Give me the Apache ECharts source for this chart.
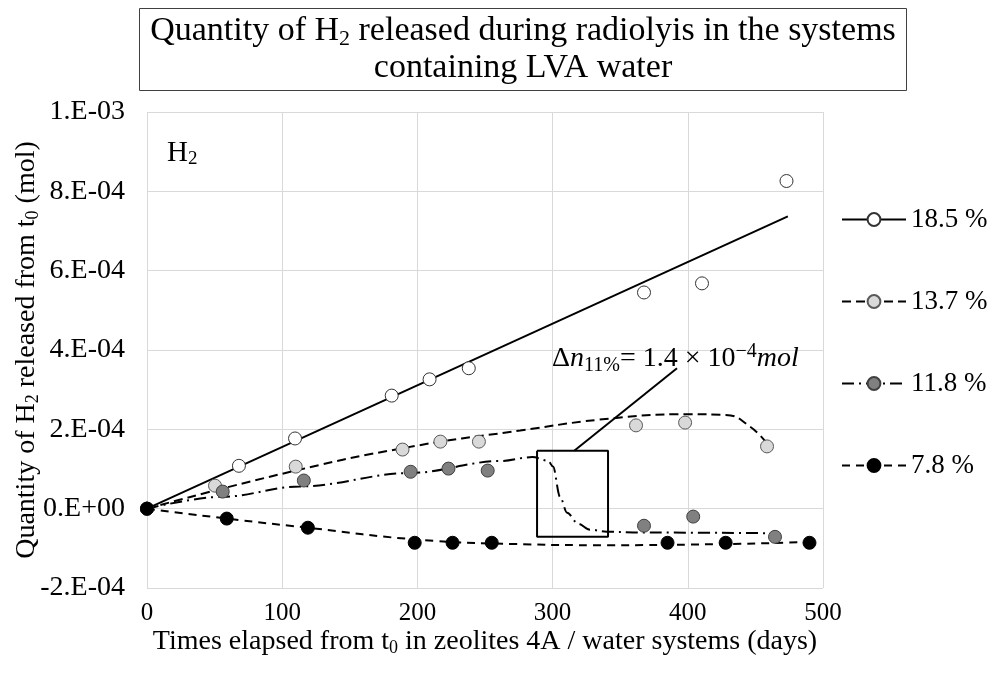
<!DOCTYPE html>
<html>
<head>
<meta charset="utf-8">
<script src="https://cdn.jsdelivr.net/npm/echarts@6/dist/echarts.min.js"></script>
<style>
  html, body { margin: 0; padding: 0; background: #fff; }
  #chart { width: 1000px; height: 675px; }
</style>
</head>
<body>
<div id="chart"></div>
<script>
// measured points (days, mol)
const names = ['18.5 %', '13.7 %', '11.8 %', '7.8 %']
const pts185 = [[0, 0], [68, 1.08e-4], [109.5, 1.77e-4], [181, 2.85e-4], [209, 3.26e-4], [238, 3.54e-4], [367.6, 5.45e-4], [410.5, 5.68e-4], [473, 8.26e-4]]
const pts137 = [[0, 0], [50.3, 0.58e-4], [110, 1.06e-4], [189, 1.49e-4], [217, 1.69e-4], [245.5, 1.69e-4], [361.7, 2.10e-4], [398, 2.17e-4], [458.6, 1.57e-4]]
const pts118 = [[0, 0], [56, 0.43e-4], [116, 0.71e-4], [195, 0.93e-4], [223, 1.01e-4], [252, 0.96e-4], [367.6, -0.43e-4], [404, -0.20e-4], [464.5, -0.71e-4]]
const pts78 = [[0, 0], [59, -0.25e-4], [119, -0.48e-4], [198, -0.86e-4], [226, -0.86e-4], [255, -0.86e-4], [385, -0.86e-4], [428, -0.86e-4], [490, -0.86e-4]]

// trend curves
const trend185 = [[0, 0], [474, 7.37e-4]]
const trend137 = [[0, 0], [100, 0.88e-4], [190, 1.53e-4], [276, 1.97e-4], [345, 2.28e-4], [400, 2.38e-4], [428, 2.36e-4], [446, 2.07e-4], [459, 1.62e-4]]
const trend118 = [[0, 0], [56, 0.3e-4], [113, 0.56e-4], [195, 0.9e-4], [261, 1.2e-4], [285, 1.3e-4], [296.6, 1.21e-4], [300.3, 1.06e-4], [305.5, 0.3e-4], [310.7, -0.1e-4], [318.8, -0.38e-4], [327.7, -0.53e-4], [340, -0.58e-4], [360, -0.6e-4], [465, -0.62e-4]]
const trend78 = [[0, 0], [59, -0.25e-4], [119, -0.48e-4], [200, -0.78e-4], [270, -0.89e-4], [340, -0.92e-4], [430, -0.89e-4], [490, -0.84e-4]]

// annotation: zoom box and callout (data coords)
const zoomBox = [[288.5, 1.46e-4], [341, 1.46e-4], [341, -0.71e-4], [288.5, -0.71e-4], [288.5, 1.46e-4]]
const callout = [[316, 1.46e-4], [392, 3.54e-4]]

const serif = '"Liberation Serif", "Times New Roman", serif'
const fills = ['#ffffff', '#d9d9d9', '#808080', '#000000']
const borders = ['#333333', '#595959', '#404040', '#000000']
const dashes = ['solid', [9, 5], [12, 5, 2, 5], [8, 6]]
const trends = [trend185, trend137, trend118, trend78]
const points = [pts185, pts137, pts118, pts78]

function expLabel(v) {
  const s = Number(v).toExponential(0)  // e.g. 6e-4
  const [m, e] = s.split('e')
  const n = parseInt(e, 10)
  const sign = n < 0 ? '-' : '+'
  return m + '.E' + sign + String(Math.abs(n)).padStart(2, '0')
}

const chart = echarts.init(document.getElementById('chart'))

const series = []
names.forEach((name, i) => {
  series.push({
    name,
    type: 'line',
    data: trends[i],
    smooth: i === 0 ? false : (i === 2 ? 0.35 : 0.5),
    smoothMonotone: i === 2 ? 'x' : undefined,
    symbol: 'circle',
    showSymbol: false,
    z: 2,
    silent: true,
    lineStyle: { color: '#000', width: 2, type: dashes[i] },
    itemStyle: { color: fills[i], borderColor: borders[i], borderWidth: 1 },
  })
})
names.forEach((name, i) => {
  series.push({
    name,
    type: 'scatter',
    data: points[i],
    symbol: 'circle',
    symbolSize: 13,
    z: 3,
    itemStyle: { color: fills[i], borderColor: borders[i], borderWidth: 1, opacity: 1 },
  })
})
series.push({
  name: 'box',
  type: 'line',
  data: zoomBox,
  symbol: 'none',
  z: 4,
  silent: true,
  lineStyle: { color: '#000', width: 2 },
})
series.push({
  name: 'callout',
  type: 'line',
  data: callout,
  symbol: 'none',
  z: 4,
  silent: true,
  lineStyle: { color: '#000', width: 2 },
})

chart.setOption({
  animation: false,
  backgroundColor: '#fff',
  textStyle: { fontFamily: serif, color: '#000' },
  title: [
    {
      text: 'Quantity of H{s|2} released during radiolyis in the systems\ncontaining LVA water',
      left: 512, top: 8,
      textAlign: 'center',
      padding: [5, 11, 4, 11],
      borderColor: '#404040', borderWidth: 1,
      textStyle: {
        fontFamily: serif, fontSize: 34, fontWeight: 'normal', color: '#000', lineHeight: 37,
        rich: { s: { fontFamily: serif, fontSize: 22, verticalAlign: 'bottom', lineHeight: 31 } },
      },
    },
    {
      text: 'H{s|2}',
      left: 162, top: 132,
      textStyle: {
        fontFamily: serif, fontSize: 29, fontWeight: 'normal', color: '#000', lineHeight: 32,
        rich: { s: { fontFamily: serif, fontSize: 19, verticalAlign: 'bottom', lineHeight: 26 } },
      },
    },
    {
      text: 'Δ{i|n}{s|11%}= 1.4 × 10{p|−4}{i|mol}',
      left: 547, top: 337,
      textStyle: {
        fontFamily: serif, fontSize: 28, fontWeight: 'normal', color: '#000', lineHeight: 34,
        rich: {
          i: { fontFamily: serif, fontSize: 28, fontStyle: 'italic', lineHeight: 34 },
          s: { fontFamily: serif, fontSize: 20, verticalAlign: 'bottom', lineHeight: 27 },
          p: { fontFamily: serif, fontSize: 20, verticalAlign: 'top', lineHeight: 27 },
        },
      },
    },
  ],
  legend: {
    data: names,
    orient: 'vertical',
    left: 836, top: 201,
    itemWidth: 64, itemHeight: 16, itemGap: 55,
    textStyle: { fontFamily: serif, fontSize: 27, color: '#000' },
    selectedMode: false,
  },
  grid: { left: 147, right: 177, top: 112, bottom: 87, containLabel: false, outerBoundsMode: 'none' },
  xAxis: {
    type: 'value', min: 0, max: 500, interval: 100,
    name: 'Times elapsed from t{s|0} in zeolites 4A / water systems (days)',
    nameLocation: 'middle', nameGap: 39, nameMoveOverlap: false,
    nameTextStyle: {
      fontFamily: serif, fontSize: 28, color: '#000', lineHeight: 30,
      rich: { s: { fontFamily: serif, fontSize: 18, verticalAlign: 'bottom', lineHeight: 24 } },
    },
    axisLine: { show: false }, axisTick: { show: false },
    axisLabel: { fontFamily: serif, fontSize: 25, color: '#000', margin: 13 },
    splitLine: { lineStyle: { color: '#d9d9d9', width: 1 } },
  },
  yAxis: {
    type: 'value', min: -2e-4, max: 1e-3, interval: 2e-4,
    name: 'Quantity of H{s|2} released from t{s|0} (mol)',
    nameLocation: 'middle', nameGap: 105, nameMoveOverlap: false,
    nameTextStyle: {
      fontFamily: serif, fontSize: 28, color: '#000', lineHeight: 30,
      rich: { s: { fontFamily: serif, fontSize: 18, verticalAlign: 'bottom', lineHeight: 24 } },
    },
    axisLine: { show: false }, axisTick: { show: false },
    axisLabel: { fontFamily: serif, fontSize: 28, color: '#000', margin: 22, formatter: expLabel },
    splitLine: { lineStyle: { color: '#d9d9d9', width: 1 } },
  },
  series,
})
</script>
</body>
</html>
